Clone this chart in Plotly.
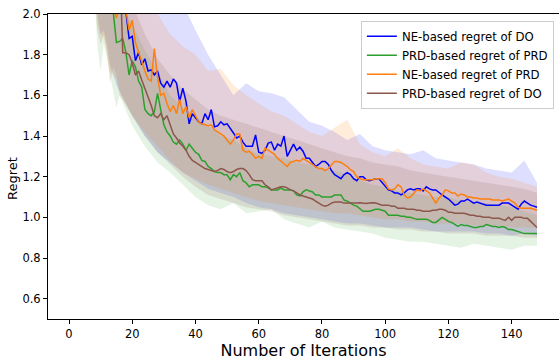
import plotly.graph_objects as go

# ---------------- data ----------------
ITERATIONS = list(range(1, 149))

NE_DO = [3.3, 3.1, 2.95, 2.85, 2.75, 2.65, 2.6, 2.5, 2.45, 2.4, 2.3, 2.25, 2.2,
         2.15, 2.12, 2.08, 2.05, 2.01,
         1.88, 1.89, 1.77, 1.81, 1.75, 1.78, 1.72, 1.725, 1.70, 1.72,
         1.66, 1.64, 1.67, 1.64, 1.68, 1.66, 1.57, 1.635, 1.57, 1.46,
         1.51, 1.49, 1.47, 1.46, 1.51, 1.48, 1.53, 1.445, 1.45, 1.47,
         1.455, 1.46, 1.44, 1.415, 1.39, 1.40, 1.37, 1.35, 1.35, 1.35,
         1.405, 1.32, 1.315, 1.33, 1.365, 1.37, 1.33, 1.36, 1.35, 1.40,
         1.30, 1.33, 1.36, 1.33, 1.345, 1.325, 1.29, 1.29, 1.27, 1.25,
         1.26, 1.275, 1.275, 1.26, 1.23, 1.21, 1.20, 1.19, 1.21, 1.22,
         1.21, 1.19, 1.18, 1.20, 1.20, 1.185, 1.18, 1.185, 1.19, 1.19,
         1.17, 1.15, 1.135, 1.13, 1.12, 1.12, 1.11, 1.12, 1.135, 1.14,
         1.135, 1.14, 1.14, 1.13, 1.15, 1.14, 1.135, 1.135, 1.12, 1.11,
         1.10, 1.09, 1.075, 1.06, 1.065, 1.08, 1.08, 1.09, 1.08, 1.07,
         1.075, 1.07, 1.065, 1.06, 1.06, 1.06, 1.06, 1.06, 1.07, 1.07,
         1.07, 1.06, 1.05, 1.04, 1.065, 1.08, 1.07, 1.06, 1.055, 1.05]

PRD_PRD = [3.0, 2.85, 2.7, 2.6, 2.5, 2.4, 2.35, 2.3, 2.25, 2.2, 2.15, 2.1, 2.05,
           2.01, 1.86, 1.865, 1.88, 1.81,
           1.70, 1.77, 1.74, 1.67, 1.64, 1.53, 1.51, 1.50, 1.52, 1.61,
           1.53, 1.455, 1.42, 1.40, 1.37, 1.36, 1.38, 1.36, 1.33, 1.36,
           1.34, 1.32, 1.31, 1.28, 1.275, 1.25, 1.24, 1.225, 1.22, 1.22,
           1.21, 1.21, 1.185, 1.21, 1.20, 1.22, 1.18, 1.17, 1.15, 1.16,
           1.16, 1.16, 1.15, 1.15, 1.145, 1.135, 1.135, 1.135, 1.145, 1.135,
           1.135, 1.135, 1.13, 1.11, 1.105, 1.125, 1.135, 1.13, 1.125, 1.11,
           1.11, 1.10, 1.10, 1.10, 1.10, 1.11, 1.11, 1.11, 1.085, 1.08,
           1.07, 1.06, 1.055, 1.04, 1.03, 1.03, 1.03, 1.035, 1.04, 1.04,
           1.035, 1.03, 1.01, 1.01, 1.01, 1.01, 1.005, 1.005, 1.0, 1.0,
           0.995, 0.99, 0.99, 0.99, 0.99, 0.985, 0.975, 0.975, 0.99, 1.0,
           0.99, 0.98, 0.975, 0.965, 0.955, 0.965, 0.96, 0.96, 0.955, 0.95,
           0.95, 0.955, 0.955, 0.965, 0.96, 0.955, 0.955, 0.95, 0.955, 0.95,
           0.94, 0.94, 0.935, 0.93, 0.925, 0.92, 0.92, 0.92, 0.92, 0.92]

NE_PRD = [3.4, 3.2, 3.0, 2.85, 2.7, 2.6, 2.5, 2.4, 2.3, 2.25, 2.2, 2.1, 2.05,
          2.03, 1.98, 2.04, 2.06, 2.02,
          1.92, 1.97, 1.86, 1.81, 1.77, 1.72, 1.68, 1.67, 1.83, 1.69,
          1.60, 1.61, 1.56, 1.52, 1.55, 1.51, 1.58, 1.51, 1.545, 1.49,
          1.53, 1.50, 1.47, 1.46, 1.455, 1.45, 1.455, 1.43, 1.42, 1.41,
          1.40, 1.38, 1.36, 1.38, 1.41, 1.41, 1.33, 1.32, 1.325, 1.31,
          1.29, 1.30, 1.29, 1.34, 1.33, 1.32, 1.31, 1.29, 1.275, 1.26,
          1.25, 1.27, 1.275, 1.28, 1.275, 1.29, 1.28, 1.27, 1.26, 1.25,
          1.24, 1.24, 1.23, 1.24, 1.26, 1.275, 1.275, 1.27, 1.26, 1.25,
          1.235, 1.225, 1.20, 1.19, 1.185, 1.185, 1.185, 1.185, 1.19, 1.19,
          1.19, 1.17, 1.14, 1.135, 1.14, 1.16, 1.15, 1.11, 1.095, 1.10,
          1.12, 1.135, 1.13, 1.14, 1.13, 1.12, 1.095, 1.07, 1.095, 1.11,
          1.135, 1.13, 1.12, 1.12, 1.105, 1.115, 1.11, 1.10, 1.10, 1.095,
          1.095, 1.09, 1.09, 1.09, 1.09, 1.085, 1.085, 1.085, 1.08, 1.085,
          1.09, 1.08, 1.07, 1.05, 1.045, 1.045, 1.045, 1.045, 1.04, 1.035]

PRD_DO = [3.4, 3.3, 3.2, 3.1, 3.0, 2.9, 2.8, 2.75, 2.7, 2.6, 2.55, 2.5, 2.45,
          2.4, 2.35, 2.3, 1.81, 1.81,
          1.80, 1.76, 1.70, 1.72, 1.675, 1.635, 1.59, 1.55, 1.50, 1.49,
          1.51, 1.48, 1.50, 1.45, 1.41, 1.39, 1.365, 1.35, 1.33, 1.30,
          1.28, 1.27, 1.26, 1.25, 1.24, 1.235, 1.23, 1.225, 1.23, 1.24,
          1.235, 1.225, 1.22, 1.225, 1.235, 1.24, 1.24, 1.23, 1.21, 1.185,
          1.18, 1.18, 1.18, 1.16, 1.15, 1.135, 1.14, 1.145, 1.15, 1.15,
          1.145, 1.135, 1.13, 1.12, 1.11, 1.105, 1.10, 1.095, 1.09, 1.08,
          1.07, 1.06, 1.055, 1.06, 1.07, 1.075, 1.075, 1.075, 1.07, 1.07,
          1.07, 1.068, 1.07, 1.072, 1.07, 1.068, 1.07, 1.072, 1.07, 1.065,
          1.06, 1.06, 1.06, 1.055, 1.055, 1.045, 1.045, 1.045, 1.04, 1.04,
          1.04, 1.035, 1.035, 1.03, 1.03, 1.03, 1.035, 1.035, 1.04, 1.04,
          1.035, 1.025, 1.025, 1.02, 1.02, 1.02, 1.02, 1.015, 1.01, 1.01,
          1.005, 1.005, 1.0, 1.0, 1.0, 0.995, 0.995, 0.995, 0.99, 0.985,
          1.0, 0.985, 1.0, 1.0, 1.0, 0.995, 0.995, 0.98, 0.965, 0.95]

# shaded bands (upper / lower edges)
BAND_X = [8, 9, 10, 11, 12, 13, 14, 15, 16, 20, 24, 28, 32, 36, 40, 44, 48, 52, 56, 60,
          64, 68, 72, 76, 80, 84, 88, 92, 96, 100, 104, 108, 112, 116, 120, 124, 128,
          132, 136, 140, 144, 148]

NE_DO_UP = [2.6, 2.6, 2.6, 2.6, 2.6, 2.6, 2.6, 2.6, 2.6, 2.4, 2.3, 2.2, 2.1, 2.05, 1.92,
            1.80, 1.70, 1.60, 1.66, 1.62, 1.61, 1.59, 1.53, 1.47, 1.45, 1.42, 1.38, 1.41,
            1.35, 1.33, 1.32, 1.31, 1.33, 1.29, 1.28, 1.27, 1.26, 1.24, 1.23, 1.22, 1.28, 1.17]
NE_DO_LO = [2.3, 2.0, 1.9, 1.92, 1.85, 1.75, 1.70, 1.65, 1.62, 1.50, 1.40, 1.32, 1.27,
            1.22, 1.18, 1.14, 1.12, 1.10, 1.07, 1.05, 1.04, 1.02, 1.01, 1.00, 0.99, 0.98,
            0.97, 0.97, 0.96, 0.95, 0.95, 0.95, 0.94, 0.93, 0.93, 0.93, 0.93, 0.92, 0.92,
            0.91, 0.92, 0.91]

PRD_PRD_UP = [2.4, 2.3, 2.3, 2.3, 2.2, 2.2, 2.15, 2.1, 2.05, 1.95, 1.82, 1.72, 1.60, 1.54,
              1.50, 1.45, 1.40, 1.38, 1.34, 1.31, 1.30, 1.29, 1.27, 1.26, 1.24, 1.23, 1.21,
              1.18, 1.16, 1.15, 1.13, 1.12, 1.11, 1.10, 1.10, 1.08, 1.07, 1.07, 1.06, 1.05,
              1.03, 1.01]
PRD_PRD_LO = [2.1, 1.84, 1.72, 1.86, 1.78, 1.70, 1.62, 1.54, 1.60, 1.45, 1.35, 1.27, 1.22,
              1.16, 1.10, 1.06, 1.04, 1.07, 1.02, 1.03, 1.04, 0.99, 0.97, 0.95, 0.98, 0.95,
              0.94, 0.93, 0.92, 0.90, 0.89, 0.88, 0.88, 0.87, 0.86, 0.85, 0.87, 0.86, 0.85,
              0.84, 0.86, 0.86]

NE_PRD_UP = [2.5, 2.5, 2.5, 2.5, 2.5, 2.5, 2.5, 2.5, 2.5, 2.3, 2.1, 2.0, 1.9, 1.84, 1.80,
             1.72, 1.73, 1.65, 1.60, 1.56, 1.52, 1.50, 1.46, 1.42, 1.40, 1.44, 1.48, 1.36,
             1.32, 1.30, 1.34, 1.29, 1.26, 1.25, 1.24, 1.27, 1.26, 1.22, 1.20, 1.19, 1.17, 1.15]
NE_PRD_LO = [2.2, 1.95, 1.9, 1.88, 1.80, 1.72, 1.70, 1.68, 1.62, 1.50, 1.42, 1.35, 1.28,
             1.22, 1.19, 1.16, 1.14, 1.12, 1.10, 1.08, 1.07, 1.06, 1.05, 1.04, 1.03, 1.02,
             1.02, 1.01, 1.00, 0.99, 0.99, 0.98, 0.98, 0.97, 0.97, 0.97, 0.96, 0.96, 0.96,
             0.95, 0.95, 0.95]

PRD_DO_UP = [2.4, 2.4, 2.4, 2.4, 2.35, 2.3, 2.3, 2.25, 2.2, 2.05, 1.90, 1.78, 1.70, 1.63,
             1.58, 1.53, 1.50, 1.48, 1.46, 1.44, 1.42, 1.40, 1.38, 1.36, 1.34, 1.32, 1.30,
             1.29, 1.27, 1.26, 1.25, 1.23, 1.22, 1.21, 1.20, 1.19, 1.18, 1.17, 1.16, 1.15,
             1.14, 1.12]
PRD_DO_LO = [2.1, 1.92, 1.85, 1.90, 1.82, 1.66, 1.74, 1.70, 1.60, 1.50, 1.40, 1.32, 1.26,
             1.20, 1.15, 1.11, 1.09, 1.07, 1.05, 1.04, 1.03, 1.01, 1.00, 0.99, 0.98, 0.97,
             0.96, 0.96, 0.95, 0.95, 0.94, 0.94, 0.93, 0.93, 0.92, 0.92, 0.92, 0.91, 0.91,
             0.91, 0.90, 0.90]

X_TICKS = [0, 20, 40, 60, 80, 100, 120, 140]
Y_TICKS = [0.6, 0.8, 1.0, 1.2, 1.4, 1.6, 1.8, 2.0]

SERIES = [
    ("NE-based regret of DO", NE_DO, NE_DO_UP, NE_DO_LO, "#0000ff", "rgba(0,0,255,0.13)"),
    ("PRD-based regret of PRD", PRD_PRD, PRD_PRD_UP, PRD_PRD_LO, "#2ca02c", "rgba(44,160,44,0.13)"),
    ("NE-based regret of PRD", NE_PRD, NE_PRD_UP, NE_PRD_LO, "#ff7f0e", "rgba(255,127,14,0.15)"),
    ("PRD-based regret of DO", PRD_DO, PRD_DO_UP, PRD_DO_LO, "#8c564b", "rgba(140,86,75,0.15)"),
]

FONT = "DejaVu Sans"

fig = go.Figure()
for name, mean, up, lo, col, fill in SERIES:
    fig.add_trace(go.Scatter(
        x=BAND_X + BAND_X[::-1], y=up + lo[::-1],
        fill="toself", fillcolor=fill, mode="none",
        hoverinfo="skip", showlegend=False))
for name, mean, up, lo, col, fill in SERIES:
    fig.add_trace(go.Scatter(
        x=ITERATIONS, y=mean, mode="lines", name=name,
        line=dict(color=col, width=1.5)))

fig.update_layout(
    width=559, height=360,
    margin=dict(l=48, r=0, t=14, b=41),
    paper_bgcolor="white", plot_bgcolor="white",
    font=dict(family=FONT, size=11.5, color="#000"),
    legend=dict(x=0.99, xanchor="right", y=0.978, yanchor="top",
                bgcolor="rgba(255,255,255,0.85)", bordercolor="#cccccc",
                borderwidth=1, font=dict(size=11.7, family=FONT),
                tracegroupgap=0),
    showlegend=True,
    annotations=[dict(
        text="Regret", textangle=-90, showarrow=False,
        xref="paper", yref="paper", x=-0.0705, y=0.462,
        xanchor="center", yanchor="middle",
        font=dict(size=13, family=FONT, color="#000"))],
)
fig.update_xaxes(
    range=[-6.64, 154.96], tickvals=X_TICKS, ticks="outside", ticklen=4,
    tickcolor="#000", showline=True, linecolor="#000", linewidth=1,
    mirror=True, showgrid=False, zeroline=False,
    tickfont=dict(size=11.5),
    title=dict(text="Number of Iterations", font=dict(size=16), standoff=4),
)
fig.update_yaxes(
    range=[0.5, 2.0], tickvals=Y_TICKS, tickformat=".1f", ticks="outside",
    ticklen=4, tickcolor="#000", showline=True, linecolor="#000", linewidth=1,
    showgrid=False, zeroline=False, tickfont=dict(size=11.5),
)

fig.write_html("out.html")
